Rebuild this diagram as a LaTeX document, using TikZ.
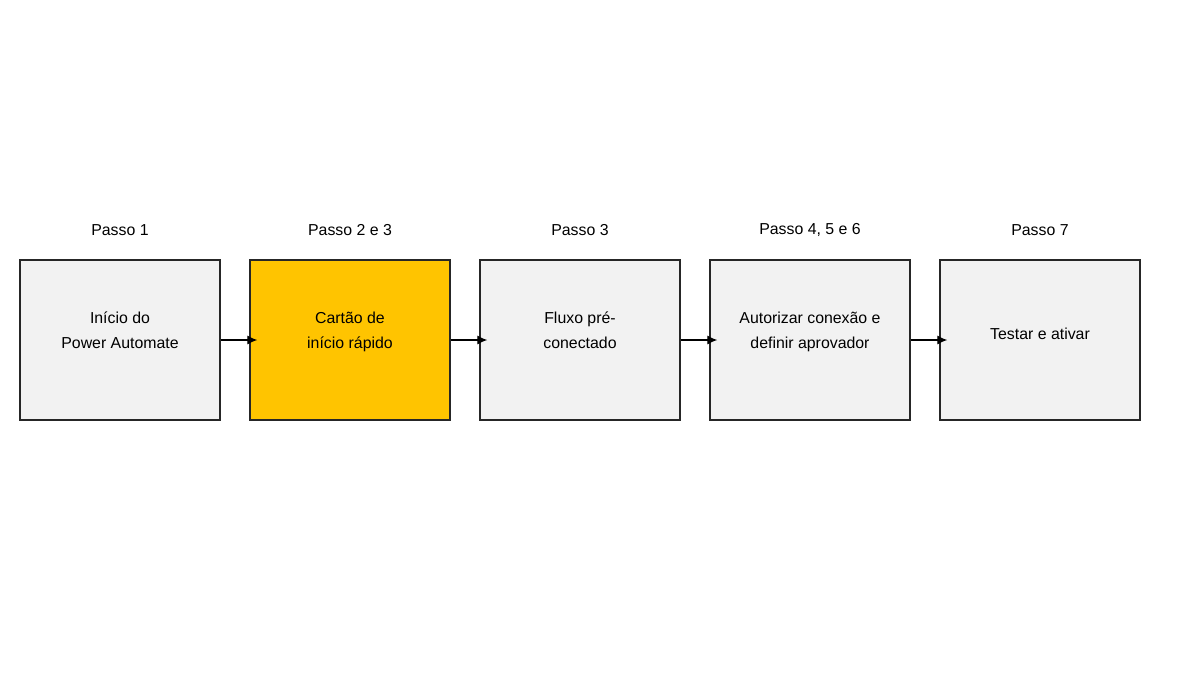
\documentclass[tikz,border=0pt]{standalone}
\usepackage{fontspec}
\setmainfont{Liberation Sans}
\usetikzlibrary{arrows.meta,positioning}
\definecolor{boxgray}{HTML}{F2F2F2}
\definecolor{boxyellow}{HTML}{FFC400}
\definecolor{boxline}{HTML}{262626}

\tikzset{
  stepbox/.style={draw=boxline, line width=1.1pt, fill=boxgray,
    minimum width=150pt, minimum height=120pt, inner sep=0pt},
  steptext/.style={yshift=4.5pt, align=center, inner sep=0pt,
    font=\fontsize{11.9pt}{18.75pt}\selectfont},
  steplabel/.style={font=\fontsize{11.9pt}{14pt}\selectfont},
  flow/.style={-{Latex[length=7.5pt,width=7pt]}, line width=1pt, draw=black, shorten >=-6pt}
}

\begin{document}
\begin{tikzpicture}[x=0.75pt,y=-0.75pt]

    \useasboundingbox (0,0) rectangle (1200,675);
    \fill [white] (0,0) rectangle (1200,675);

    % boxes
    \node [stepbox, label={[steptext]center:Início do\\Power Automate\strut}] (inicio) at (120,340) {};
    \node [stepbox, fill=boxyellow, label={[steptext]center:Cartão de\\início rápido\strut}] (cartao) at (350,340) {};
    \node [stepbox, label={[steptext]center:Fluxo pré-\\conectado\strut}] (fluxo) at (580,340) {};
    \node [stepbox, label={[steptext]center:Autorizar conexão e\\definir aprovador\strut}] (autorizar) at (810,340) {};
    \node [stepbox, label={[steptext]center:Testar e ativar\strut}] (testar) at (1040,340) {};

    % step labels
    \node [steplabel] (passoA) at (120,230) {Passo 1};
    \node [steplabel] (passoB) at (350,230) {Passo 2 e 3};
    \node [steplabel] (passoC) at (580,230) {Passo 3};
    \node [steplabel] (passoD) at (810,230) {Passo 4, 5 e 6};
    \node [steplabel] (passoE) at (1040,230) {Passo 7};

    % arrows
    \draw [flow] (inicio) -- (cartao);
    \draw [flow] (cartao) -- (fluxo);
    \draw [flow] (fluxo) -- (autorizar);
    \draw [flow] (autorizar) -- (testar);

\end{tikzpicture}
\end{document}
